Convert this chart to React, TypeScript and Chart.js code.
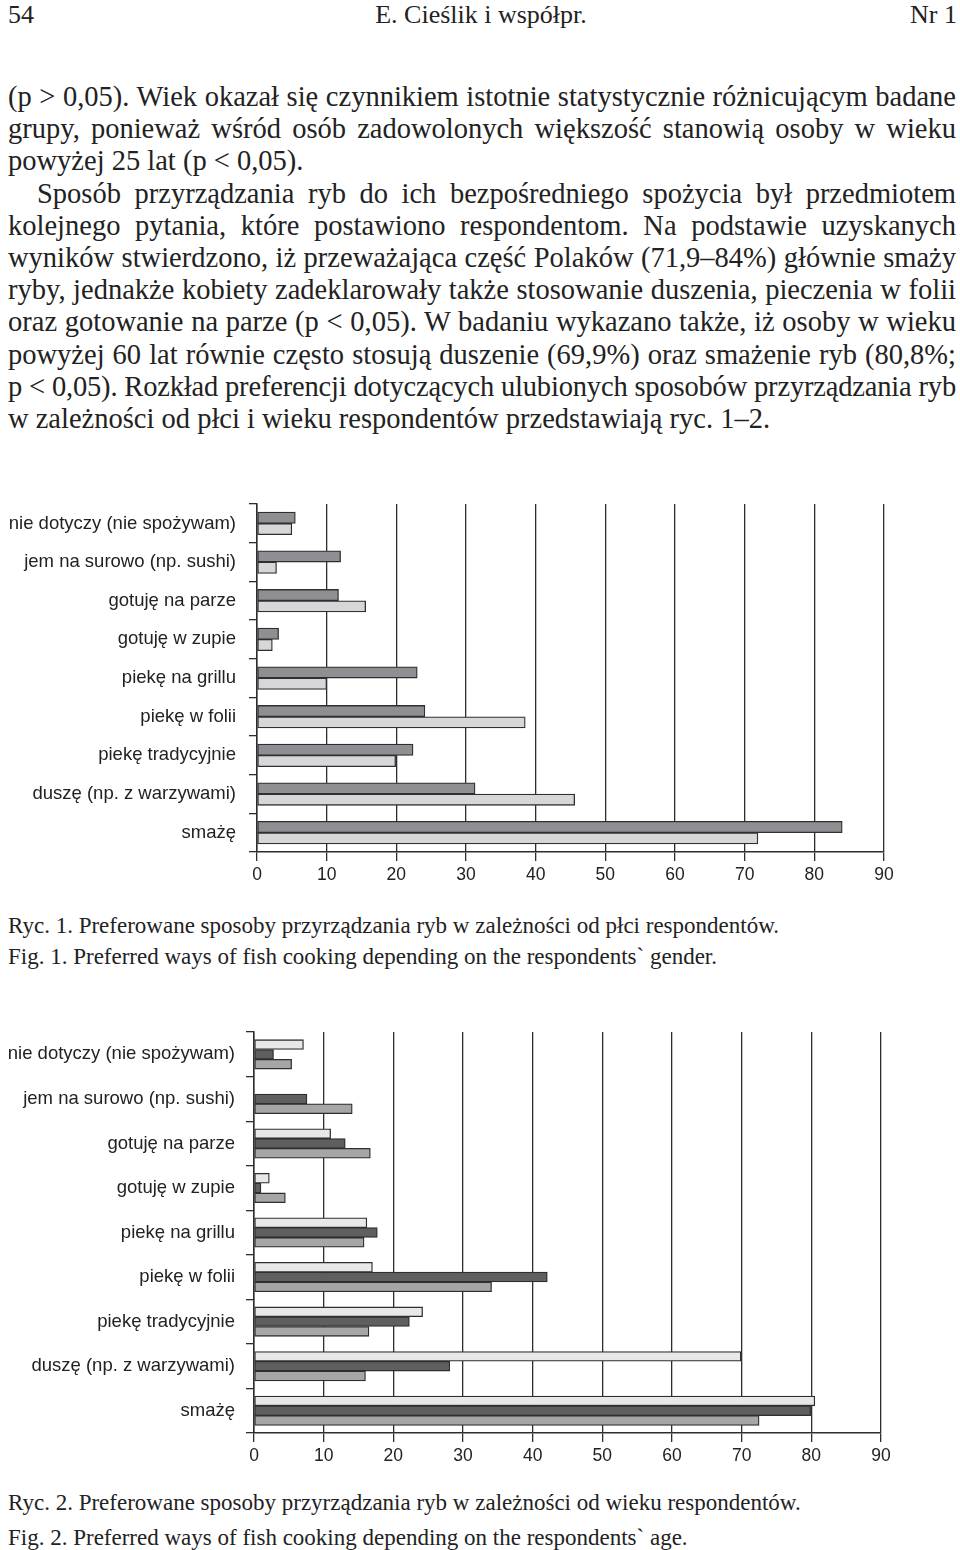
import React, { useEffect, useLayoutEffect, useRef } from "react";
import { Chart, registerables } from "chart.js";

Chart.register(...registerables);

const categories = [
  "nie dotyczy (nie spożywam)",
  "jem na surowo (np. sushi)",
  "gotuję na parze",
  "gotuję w zupie",
  "piekę na grillu",
  "piekę w folii",
  "piekę tradycyjnie",
  "duszę (np. z warzywami)",
  "smażę",
];

// Ryc. 1 – by gender
const men = [5.5, 12.0, 11.7, 3.1, 23.0, 24.1, 22.4, 31.3, 84.0];
const women = [5.0, 2.8, 15.6, 2.2, 10.0, 38.5, 19.9, 45.6, 71.9];

// Ryc. 2 – by age
const ageOver60 = [7.1, 0, 11.0, 2.2, 16.2, 17.0, 24.2, 69.9, 80.5];
const ageGroupB = [2.8, 7.6, 13.1, 1.0, 17.7, 42.1, 22.3, 28.1, 79.9];
const ageGroupC = [5.4, 14.1, 16.7, 4.5, 15.8, 34.1, 16.5, 16.0, 72.5];

const xMin = 0;
const xMax = 90;
const xStep = 10;

const paragraphLines: { text: string; justify: boolean; indent?: number }[] = [
  { text: "(p > 0,05). Wiek okazał się czynnikiem istotnie statystycznie różnicującym badane", justify: true },
  { text: "grupy, ponieważ wśród osób zadowolonych większość stanowią osoby w wieku", justify: true },
  { text: "powyżej 25 lat (p < 0,05).", justify: false },
  { text: "Sposób przyrządzania ryb do ich bezpośredniego spożycia był przedmiotem", justify: true, indent: 29 },
  { text: "kolejnego pytania, które postawiono respondentom. Na podstawie uzyskanych", justify: true },
  { text: "wyników stwierdzono, iż przeważająca część Polaków (71,9–84%) głównie smaży", justify: true },
  { text: "ryby, jednakże kobiety zadeklarowały także stosowanie duszenia, pieczenia w folii", justify: true },
  { text: "oraz gotowanie na parze (p < 0,05). W badaniu wykazano także, iż osoby w wieku", justify: true },
  { text: "powyżej 60 lat równie często stosują duszenie (69,9%) oraz smażenie ryb (80,8%;", justify: true },
  { text: "p < 0,05). Rozkład preferencji dotyczących ulubionych sposobów przyrządzania ryb", justify: true },
  { text: "w zależności od płci i wieku respondentów przedstawiają ryc. 1–2.", justify: false },
];

const serif = "'Liberation Serif', 'Times New Roman', serif";
const sans = "'Liberation Sans', Arial, sans-serif";
const lineWidthPx = 948;

function TextLine(props: { text: string; justify: boolean; indent: number }) {
  const ref = useRef<HTMLSpanElement | null>(null);
  useLayoutEffect(() => {
    const el = ref.current;
    if (!el) return;
    const avail = lineWidthPx - props.indent;
    const w = el.getBoundingClientRect().width;
    const spaces = (props.text.match(/ /g) || []).length;
    if (w > avail) {
      el.style.letterSpacing = (avail - w) / props.text.length + "px";
    } else if (props.justify && spaces > 0) {
      el.style.wordSpacing = (avail - w) / spaces + "px";
    }
  }, []);
  return (
    <div style={{ height: 32.2, lineHeight: "32.2px", whiteSpace: "nowrap", paddingLeft: props.indent }}>
      <span ref={ref} style={{ display: "inline-block", whiteSpace: "nowrap" }}>
        {props.text}
      </span>
    </div>
  );
}

type Series = { label: string; data: number[]; color: string };

function BarChart(props: {
  series: Series[];
  top: number;
  height: number;
  axisLeft: number;
  axisRight: number;
  barThickness: number;
  labelPad: number;
}) {
  const ref = useRef<HTMLCanvasElement | null>(null);
  useEffect(() => {
    if (!ref.current) return;
    const lineColor = "#2e2e2e";
    const chart = new Chart(ref.current, {
      type: "bar",
      data: {
        labels: categories,
        datasets: props.series.map((s) => ({
          label: s.label,
          data: s.data,
          backgroundColor: s.color,
          borderColor: "#2f2f2f",
          borderWidth: 1.3,
          borderSkipped: false,
          barThickness: props.barThickness,
        })),
      },
      options: {
        indexAxis: "y",
        animation: false,
        responsive: false,
        maintainAspectRatio: false,
        layout: { padding: { top: 15, right: 960 - props.axisRight, left: 0, bottom: 0 } },
        plugins: { legend: { display: false }, tooltip: { enabled: false } },
        scales: {
          x: {
            min: xMin,
            max: xMax,
            ticks: {
              stepSize: xStep,
              color: "#222",
              padding: 4,
              font: { family: sans, size: 17.5 },
            },
            grid: {
              color: lineColor,
              lineWidth: 1.3,
              drawTicks: true,
              tickLength: 9,
              tickColor: lineColor,
            },
            border: { color: lineColor, width: 1.5 },
            afterFit: (scale: any) => {
              scale.height = 38;
            },
          },
          y: {
            ticks: {
              color: "#222",
              padding: props.labelPad,
              font: { family: sans, size: 18.5 },
            },
            grid: {
              drawOnChartArea: false,
              drawTicks: true,
              tickLength: 8,
              offset: true,
              color: lineColor,
              lineWidth: 1.3,
            },
            border: { color: lineColor, width: 1.5 },
            afterFit: (scale: any) => {
              scale.width = props.axisLeft;
            },
          },
        },
      },
    } as any);
    return () => chart.destroy();
  }, []);
  return (
    <canvas
      ref={ref}
      width={960}
      height={props.height}
      style={{ position: "absolute", left: 0, top: props.top, width: 960, height: props.height }}
    />
  );
}

export default function App() {
  return (
    <div style={{ position: "absolute", left: 0, top: 0, width: 960, height: 1550, background: "#fff", color: "#222" }}>
      {/* header */}
      <div style={{ position: "absolute", top: 0, left: 8, fontFamily: serif, fontSize: 26, lineHeight: "30px" }}>54</div>
      <div style={{ position: "absolute", top: 0, left: 0, width: 962, textAlign: "center", fontFamily: serif, fontSize: 26, lineHeight: "30px" }}>
        E. Cieślik i współpr.
      </div>
      <div style={{ position: "absolute", top: 0, right: 3, fontFamily: serif, fontSize: 26, lineHeight: "30px" }}>Nr 1</div>

      {/* paragraph */}
      <div style={{ position: "absolute", top: 81, left: 8, width: lineWidthPx, fontFamily: serif, fontSize: 28.5 }}>
        {paragraphLines.map((l, i) => (
          <TextLine key={i} text={l.text} justify={l.justify} indent={l.indent || 0} />
        ))}
      </div>

      <BarChart
        series={[
          { label: "mężczyźni", data: men, color: "#8f8f93" },
          { label: "kobiety", data: women, color: "#d6d7d8" },
        ]}
        top={480}
        height={410}
        axisLeft={257}
        axisRight={884}
        barThickness={11.3}
        labelPad={13}
      />

      <div style={{ position: "absolute", top: 913, left: 8, fontFamily: serif, fontSize: 23, lineHeight: "26px" }}>
        Ryc. 1. Preferowane sposoby przyrządzania ryb w zależności od płci respondentów.
      </div>
      <div style={{ position: "absolute", top: 944, left: 8, fontFamily: serif, fontSize: 23, lineHeight: "26px" }}>
        Fig. 1. Preferred ways of fish cooking depending on the respondents` gender.
      </div>

      <BarChart
        series={[
          { label: "powyżej 60 lat", data: ageOver60, color: "#e8e8e8" },
          { label: "grupa wiekowa B", data: ageGroupB, color: "#5f5f5f" },
          { label: "grupa wiekowa C", data: ageGroupC, color: "#a6a6a6" },
        ]}
        top={1010}
        height={461}
        axisLeft={254}
        axisRight={881}
        barThickness={9.8}
        labelPad={11}
      />

      <div style={{ position: "absolute", top: 1490, left: 8, fontFamily: serif, fontSize: 23, lineHeight: "26px" }}>
        Ryc. 2. Preferowane sposoby przyrządzania ryb w zależności od wieku respondentów.
      </div>
      <div style={{ position: "absolute", top: 1525, left: 8, fontFamily: serif, fontSize: 23, lineHeight: "26px" }}>
        Fig. 2. Preferred ways of fish cooking depending on the respondents` age.
      </div>
    </div>
  );
}
